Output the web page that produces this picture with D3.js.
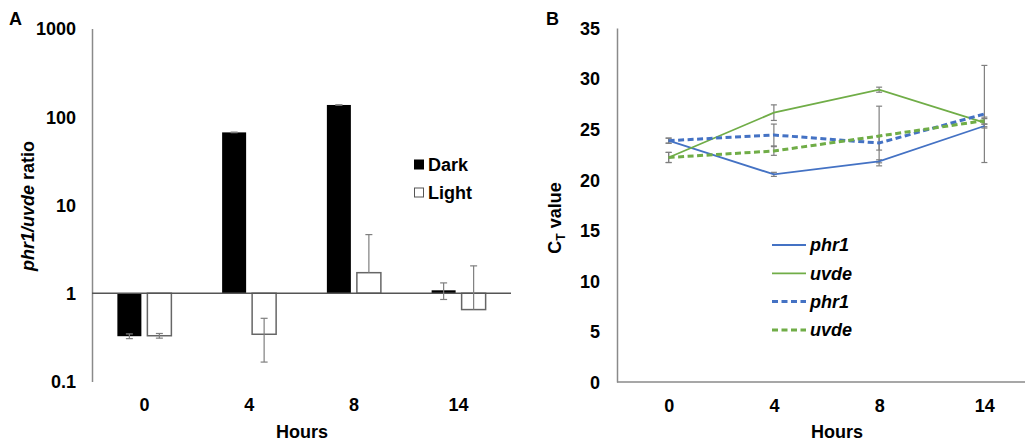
<!DOCTYPE html>
<html><head><meta charset="utf-8">
<script src="https://cdn.jsdelivr.net/npm/d3@7/dist/d3.min.js"></script>
<style>
body{margin:0;background:#fff;}
svg text{font-family:"Liberation Sans",Arial,sans-serif;font-weight:bold;fill:#000;}
</style></head>
<body>
<svg id="chart" width="1025" height="442"></svg>
<script>
// ---------- data ----------
const hours = ["0", "4", "8", "14"];
// Panel A: phr1/uvde ratio (log scale)
const darkRatio = [0.326, 66.5, 136, 1.08];
const darkSD    = [0.02, 0.5, 0.5, 0.23];
const lightRatio = [0.33, 0.343, 1.71, 0.653];
const lightSD    = [0.02, 0.177, 2.91, 1.39];
const ratioTicks = [0.1, 1, 10, 100, 1000];
// Panel B: CT values
const phr1Solid = [23.86, 20.53, 21.82, 25.31];
const phr1SolidSD = [0.25, 0.2, 0.15, 0.2];
const uvdeSolid = [22.2, 26.63, 28.9, 25.64];
const uvdeSolidSD = [0.5, 0.77, 0.25, 0.4];
const phr1Dashed = [23.86, 24.42, 23.63, 26.5];
const phr1DashedSD = [0.25, 1.08, 0.7, 4.8];
const uvdeDashed = [22.2, 22.84, 24.32, 25.84];
const uvdeDashedSD = [0.5, 0.43, 2.95, 0.35];
const ctTicks = [0, 5, 10, 15, 20, 25, 30, 35];

const BLUE = "#4472C4", GREEN = "#70AD47", AXIS = "#8a8a8a", ERR = "#7f7f7f";
const svg = d3.select("#chart");

// ---------- Panel A ----------
const xA = d3.scaleBand().domain(hours).range([92, 511]);
const xA1 = d3.scaleBand().domain(["Dark", "Light"]).range([-27, 27]).paddingInner(0.2);
const yA = d3.scaleLog().domain([0.1, 1000]).range([381.5, 28.5]);

const gA = svg.append("g");
gA.append("text").attr("x", 9).attr("y", 25).attr("font-size", 18).text("A");

const axA = gA.append("g").attr("transform", "translate(92,0)")
  .call(d3.axisLeft(yA).tickValues(ratioTicks).tickSize(0).tickPadding(16)
    .tickFormat(d => d3.format("~g")(d)));
axA.select(".domain").attr("stroke", AXIS).attr("stroke-width", 1.5);
axA.selectAll("text").attr("font-size", 18).attr("font-family", null).attr("dy", "0.35em");

const axAx = gA.append("g").attr("transform", "translate(0,381)")
  .call(d3.axisBottom(xA).tickSize(0).tickPadding(17));
axAx.select(".domain").remove();
axAx.selectAll("text").attr("font-size", 18).attr("font-family", null);

const seriesA = [
  {name: "Dark", vals: darkRatio, sd: darkSD},
  {name: "Light", vals: lightRatio, sd: lightSD}
];
seriesA.forEach(s => {
  const g = gA.append("g");
  hours.forEach((h, i) => {
    const v = s.vals[i];
    const x0 = xA(h) + xA.bandwidth() / 2 + xA1(s.name);
    const y0 = Math.min(yA(v), yA(1)), y1 = Math.max(yA(v), yA(1));
    g.append("rect").attr("x", x0).attr("y", y0)
      .attr("width", xA1.bandwidth()).attr("height", y1 - y0)
      .attr("fill", s.name === "Dark" ? "#000" : "#fff")
      .attr("stroke", s.name === "Dark" ? "#000" : "#666")
      .attr("stroke-width", s.name === "Dark" ? 0 : 1.5);
  });
});
// baseline at 1
gA.append("line").attr("x1", 92).attr("x2", 511).attr("y1", yA(1)).attr("y2", yA(1))
  .attr("stroke", "#555").attr("stroke-width", 1.3);
// error bars
seriesA.forEach(s => {
  hours.forEach((h, i) => {
    const v = s.vals[i], e = s.sd[i];
    const cx = xA(h) + xA.bandwidth() / 2 + xA1(s.name) + xA1.bandwidth() / 2;
    const hi = v + e, lo = v - e;
    const yHi = yA(hi), yLo = lo > 0 ? yA(lo) : yA(v);
    const g = gA.append("g").attr("stroke", ERR).attr("stroke-width", 1.2);
    g.append("line").attr("x1", cx).attr("x2", cx).attr("y1", yHi).attr("y2", yLo);
    g.append("line").attr("x1", cx - 3.5).attr("x2", cx + 3.5).attr("y1", yHi).attr("y2", yHi);
    if (lo > 0) g.append("line").attr("x1", cx - 3.5).attr("x2", cx + 3.5).attr("y1", yLo).attr("y2", yLo);
  });
});
// y label A
gA.append("text").attr("transform", "translate(34,206) rotate(-90)")
  .attr("text-anchor", "middle").attr("font-size", 18)
  .call(t => { t.append("tspan").attr("font-style", "italic").text("phr1/uvde");
               t.append("tspan").text(" ratio"); });
gA.append("text").attr("x", 302).attr("y", 438).attr("text-anchor", "middle")
  .attr("font-size", 18).text("Hours");
// legend A
const legA = [{name: "Dark", fill: "#000", stroke: "#000"}, {name: "Light", fill: "#fff", stroke: "#555"}];
legA.forEach((d, i) => {
  const y = 165 + i * 28;
  gA.append("rect").attr("x", 414.5).attr("y", y - 5).attr("width", 9).attr("height", 9)
    .attr("fill", d.fill).attr("stroke", d.stroke).attr("stroke-width", 1);
  gA.append("text").attr("x", 428).attr("y", y).attr("dy", "0.35em")
    .attr("font-size", 18).text(d.name);
});

// ---------- Panel B ----------
const xB = d3.scalePoint().domain(hours).range([616, 1037]).padding(0.5);
const yB = d3.scaleLinear().domain([0, 35]).range([382, 28]);
const gB = svg.append("g");
gB.append("text").attr("x", 546).attr("y", 25).attr("font-size", 18).text("B");

const axB = gB.append("g").attr("transform", "translate(617,0)")
  .call(d3.axisLeft(yB).tickValues(ctTicks).tickSize(0).tickPadding(17));
axB.select(".domain").attr("stroke", AXIS).attr("stroke-width", 1.5);
axB.selectAll("text").attr("font-size", 18).attr("font-family", null).attr("dy", "0.35em");
gB.append("line").attr("x1", 617).attr("x2", 1025).attr("y1", yB(0)).attr("y2", yB(0))
  .attr("stroke", AXIS).attr("stroke-width", 1.5);
const axBx = gB.append("g").attr("transform", "translate(0,382)")
  .call(d3.axisBottom(xB).tickSize(0).tickPadding(17));
axBx.select(".domain").remove();
axBx.selectAll("text").attr("font-size", 18).attr("font-family", null);

const seriesB = [
  {name: "phr1", vals: phr1Solid, sd: phr1SolidSD, color: BLUE, dash: null, w: 1.8},
  {name: "uvde", vals: uvdeSolid, sd: uvdeSolidSD, color: GREEN, dash: null, w: 1.8},
  {name: "phr1", vals: phr1Dashed, sd: phr1DashedSD, color: BLUE, dash: "6,3.5", w: 3},
  {name: "uvde", vals: uvdeDashed, sd: uvdeDashedSD, color: GREEN, dash: "6,3.5", w: 3}
];
const line = d3.line().x((d, i) => xB(hours[i])).y(d => yB(d));
// error bars first
seriesB.forEach(s => {
  hours.forEach((h, i) => {
    const cx = xB(h), yHi = yB(s.vals[i] + s.sd[i]), yLo = yB(s.vals[i] - s.sd[i]);
    const g = gB.append("g").attr("stroke", ERR).attr("stroke-width", 1.2);
    g.append("line").attr("x1", cx).attr("x2", cx).attr("y1", yHi).attr("y2", yLo);
    g.append("line").attr("x1", cx - 3).attr("x2", cx + 3).attr("y1", yHi).attr("y2", yHi);
    g.append("line").attr("x1", cx - 3).attr("x2", cx + 3).attr("y1", yLo).attr("y2", yLo);
  });
});
seriesB.forEach(s => {
  gB.append("path").attr("d", line(s.vals)).attr("fill", "none")
    .attr("stroke", s.color).attr("stroke-width", s.w)
    .attr("stroke-dasharray", s.dash);
});
// legend B
seriesB.forEach((s, i) => {
  const y = 245 + i * 28.3;
  gB.append("line").attr("x1", 772).attr("x2", 806).attr("y1", y).attr("y2", y)
    .attr("stroke", s.color).attr("stroke-width", s.w).attr("stroke-dasharray", s.dash);
  gB.append("text").attr("x", 810).attr("y", y).attr("dy", "0.35em")
    .attr("font-size", 18).attr("font-style", "italic").text(s.name);
});
// y label B
gB.append("text").attr("transform", "translate(561,218) rotate(-90)")
  .attr("text-anchor", "middle").attr("font-size", 18)
  .call(t => { t.append("tspan").text("C");
               t.append("tspan").attr("font-size", 12).attr("dy", 4).text("T");
               t.append("tspan").attr("dy", -4).text(" value"); });
gB.append("text").attr("x", 837).attr("y", 438).attr("text-anchor", "middle")
  .attr("font-size", 18).text("Hours");
</script>
</body></html>
